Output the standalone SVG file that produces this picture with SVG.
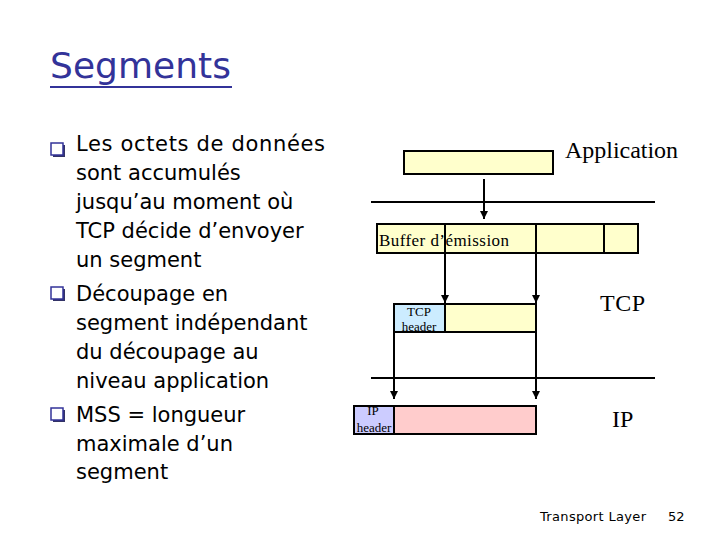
<svg xmlns="http://www.w3.org/2000/svg" width="720" height="540" viewBox="0 0 720 540">
<style>
.body{font-family:"DejaVu Sans","Liberation Sans",sans-serif;font-size:21px;fill:#000}
.serif{font-family:"Liberation Serif","Times New Roman",serif;fill:#000}
.box{stroke:#000;stroke-width:2}
.ln{stroke:#000;stroke-width:2;fill:none}
.bul{fill:#fff;stroke:#333399;stroke-width:1.5}
</style>
<defs>
<marker id="arr" viewBox="0 0 10 10" refX="10" refY="5" markerWidth="4" markerHeight="4" orient="auto" markerUnits="strokeWidth">
<path d="M0,0 L10,5 L0,10 z" fill="#000"/>
</marker>
<g id="bullet"><rect x="2" y="2" width="12" height="12" fill="#333366"/><rect x="0" y="0" width="12" height="12" class="bul"/></g>
</defs>
<rect width="720" height="540" fill="#fff"/>
<g id="title">
<text x="50" y="78" font-family="'DejaVu Sans','Liberation Sans',sans-serif" font-size="36" fill="#333399" textLength="181">Segments</text>
<line x1="50" y1="87" x2="232" y2="87" stroke="#333399" stroke-width="2"/>
</g>
<g id="bullets">
<use href="#bullet" x="51" y="143"/>
<use href="#bullet" x="51" y="287"/>
<use href="#bullet" x="51" y="408"/>
<text class="body" x="76" y="151" textLength="249">Les octets de données</text>
<text class="body" x="76" y="180">sont accumulés</text>
<text class="body" x="76" y="209">jusqu’au moment où</text>
<text class="body" x="76" y="238">TCP décide d’envoyer</text>
<text class="body" x="76" y="267">un segment</text>
<text class="body" x="76" y="301">Découpage en</text>
<text class="body" x="76" y="330">segment indépendant</text>
<text class="body" x="76" y="359">du découpage au</text>
<text class="body" x="76" y="388">niveau application</text>
<text class="body" x="76" y="422">MSS = longueur</text>
<text class="body" x="76" y="451">maximale d’un</text>
<text class="body" x="76" y="479">segment</text>
</g>
<g id="layers">
<line class="ln" x1="371" y1="202" x2="655" y2="202"/>
<line class="ln" x1="371" y1="378" x2="655" y2="378"/>
<text class="serif" x="565" y="158" font-size="24" textLength="113">Application</text>
<text class="serif" x="600" y="311" font-size="24" textLength="45">TCP</text>
<text class="serif" x="612" y="427" font-size="24">IP</text>
</g>
<g id="app-box">
<rect class="box" x="404" y="151" width="149" height="23" fill="#FFFFCC"/>
</g>
<g id="buffer">
<rect class="box" x="377" y="224" width="261" height="29" fill="#FFFFCC"/>
<text class="serif" x="379" y="246" font-size="17" textLength="130">Buffer d’émission</text>
<line class="ln" x1="445" y1="224" x2="445" y2="253"/>
<line class="ln" x1="536" y1="224" x2="536" y2="253"/>
<line class="ln" x1="604" y1="224" x2="604" y2="253"/>
</g>
<g id="tcp-segment">
<rect class="box" x="394" y="304" width="51" height="28" fill="#CCECFF"/>
<rect class="box" x="445" y="304" width="91" height="28" fill="#FFFFCC"/>
<text class="serif" x="419" y="316" font-size="13" text-anchor="middle">TCP</text>
<text class="serif" x="419" y="331" font-size="13" text-anchor="middle">header</text>
</g>
<g id="ip-packet">
<rect class="box" x="354" y="406" width="40" height="28" fill="#CCCCFF"/>
<rect class="box" x="394" y="406" width="142" height="28" fill="#FFCCCC"/>
<text class="serif" x="373" y="415" font-size="13" text-anchor="middle">IP</text>
<text class="serif" x="374" y="432" font-size="13" text-anchor="middle">header</text>
</g>
<g id="connectors">
<line class="ln" x1="484" y1="179" x2="484" y2="219" marker-end="url(#arr)"/>
<line class="ln" x1="445" y1="253" x2="445" y2="303" marker-end="url(#arr)"/>
<line class="ln" x1="536" y1="253" x2="536" y2="303" marker-end="url(#arr)"/>
<line class="ln" x1="536" y1="332" x2="536" y2="399" marker-end="url(#arr)"/>
<line class="ln" x1="394" y1="332" x2="394" y2="399" marker-end="url(#arr)"/>
</g>
<g id="footer">
<text x="540" y="521" font-family="'DejaVu Sans','Liberation Sans',sans-serif" font-size="13" textLength="106">Transport Layer</text>
<text x="668" y="521" font-family="'DejaVu Sans','Liberation Sans',sans-serif" font-size="13">52</text>
</g>
</svg>
